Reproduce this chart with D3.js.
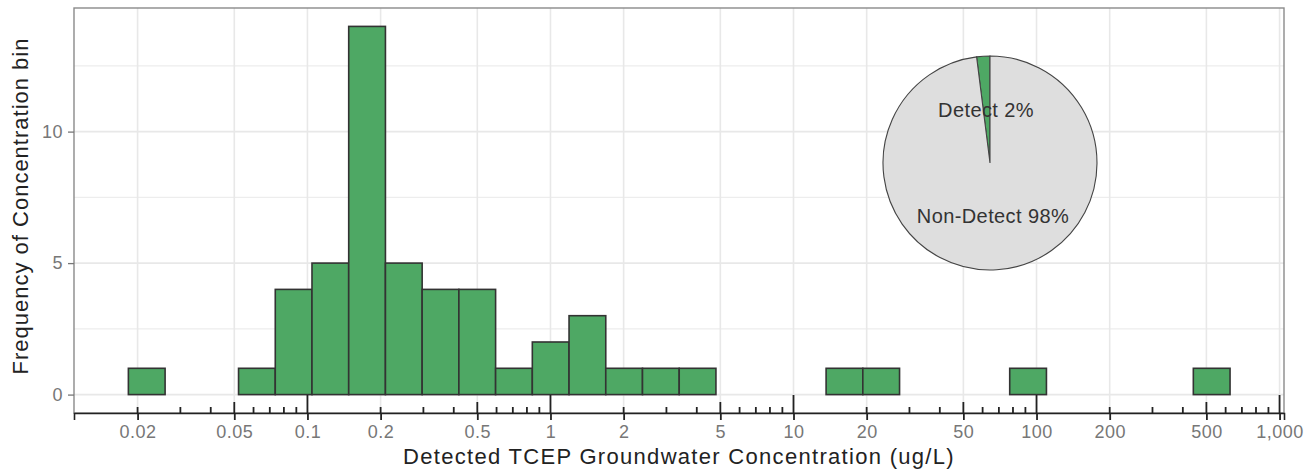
<!DOCTYPE html>
<html>
<head>
<meta charset="utf-8">
<script src="https://cdn.jsdelivr.net/npm/d3@7"></script>
<style>
  body { margin: 0; background: #fff; }
  text { font-family: "Liberation Sans", Arial, Helvetica, sans-serif; }
</style>
</head>
<body>
<div id="chart"></div>
<script>
// histogram of detected concentrations, 30 bins on a log10 scale
const binRange = [0.01833, 625.6];
const binCounts = [1, 0, 0, 1, 4, 5, 14, 5, 4, 4, 1, 2, 3, 1, 1, 1, 0, 0, 0, 1, 1, 0, 0, 0, 1, 0, 0, 0, 0, 1];

const xBreaks = [0.02, 0.05, 0.1, 0.2, 0.5, 1, 2, 5, 10, 20, 50, 100, 200, 500, 1000];
const yBreaks = [0, 5, 10];
const yMinorBreaks = [2.5, 7.5, 12.5];
const logTickDecades = [0.01, 0.1, 1, 10, 100, 1000];
const logTickSteps = [1, 2, 3, 4, 5, 6, 7, 8, 9];

const pieLabels = ["Detect", "Non-Detect"];
const pieShares = [2, 98];

const width = 1310;
const height = 472;
const panel = { left: 74, right: 1284, top: 8, bottom: 413 };

const svg = d3.select("#chart")
  .append("svg")
  .attr("width", width)
  .attr("height", height);

svg.append("rect").attr("width", width).attr("height", height).attr("fill", "#fff");

const x = d3.scaleLog()
  .domain([0.01095, 1043])
  .range([panel.left, panel.right]);

const y = d3.scaleLinear()
  .domain([-0.7, 14.7])
  .range([panel.bottom, panel.top]);

// grid
svg.append("g")
  .selectAll("line")
  .data(yMinorBreaks)
  .enter()
  .append("line")
  .attr("x1", panel.left).attr("x2", panel.right)
  .attr("y1", (d) => y(d)).attr("y2", (d) => y(d))
  .attr("stroke", "#ededed")
  .attr("stroke-width", 1.2);

svg.append("g")
  .selectAll("line")
  .data(yBreaks)
  .enter()
  .append("line")
  .attr("x1", panel.left).attr("x2", panel.right)
  .attr("y1", (d) => y(d)).attr("y2", (d) => y(d))
  .attr("stroke", "#e8e8e8")
  .attr("stroke-width", 1.6);

svg.append("g")
  .selectAll("line")
  .data(xBreaks)
  .enter()
  .append("line")
  .attr("x1", (d) => x(d)).attr("x2", (d) => x(d))
  .attr("y1", panel.top).attr("y2", panel.bottom)
  .attr("stroke", "#e8e8e8")
  .attr("stroke-width", 1.6);

// bins
const logMin = Math.log10(binRange[0]);
const logStep = (Math.log10(binRange[1]) - logMin) / binCounts.length;
const bins = binCounts.map((count, i) => ({
  x0: Math.pow(10, logMin + i * logStep),
  x1: Math.pow(10, logMin + (i + 1) * logStep),
  count: count,
}));

svg.append("g")
  .selectAll("rect")
  .data(bins)
  .enter()
  .append("rect")
  .attr("x", (d) => x(d.x0))
  .attr("width", (d) => x(d.x1) - x(d.x0))
  .attr("y", (d) => y(d.count))
  .attr("height", (d) => y(0) - y(d.count))
  .attr("fill", "#4ea864")
  .attr("stroke", "#333")
  .attr("stroke-width", 1.6);

// pie inset, detect slice just left of 12 o'clock
const offset = 2 * Math.PI * pieShares[0] / 100;
const pie = d3.pie().sort(null).startAngle(-offset).endAngle(2 * Math.PI - offset);
const arc = d3.arc().innerRadius(0).outerRadius(107);
const pieG = svg.append("g").attr("transform", "translate(990, 163)");
pieG.selectAll("path")
  .data(pie(pieShares))
  .enter()
  .append("path")
  .attr("d", arc)
  .attr("fill", (d, i) => (i === 0 ? "#4ea864" : "#dedede"))
  .attr("stroke", "#444")
  .attr("stroke-width", 1.1);
pieG.append("text")
  .attr("x", -4).attr("y", -46)
  .attr("text-anchor", "middle")
  .style("font-size", "20px")
  .style("letter-spacing", "0.4px")
  .attr("fill", "#333")
  .text(`${pieLabels[0]} ${pieShares[0]}%`);
pieG.append("text")
  .attr("x", 3).attr("y", 60)
  .attr("text-anchor", "middle")
  .style("font-size", "20px")
  .style("letter-spacing", "0.4px")
  .attr("fill", "#333")
  .text(`${pieLabels[1]} ${pieShares[1]}%`);

// panel border
svg.append("rect")
  .attr("x", panel.left).attr("y", panel.top)
  .attr("width", panel.right - panel.left)
  .attr("height", panel.bottom - panel.top)
  .attr("fill", "none")
  .attr("stroke", "#8a8a8a")
  .attr("stroke-width", 1.4);

// log ticks inside the bottom of the panel
const logTicks = logTickDecades
  .flatMap((dec) => logTickSteps.map((k) => ({ v: k * dec, k: k })))
  .filter((d) => d.v >= x.domain()[0] && d.v <= x.domain()[1]);
svg.append("g")
  .selectAll("line")
  .data(logTicks)
  .enter()
  .append("line")
  .attr("x1", (d) => x(d.v)).attr("x2", (d) => x(d.v))
  .attr("y1", panel.bottom)
  .attr("y2", (d) => panel.bottom - (d.k === 1 ? 18 : d.k === 5 ? 11 : 6))
  .attr("stroke", "#222")
  .attr("stroke-width", 1.8);

// x axis
const xAxis = svg.append("g")
  .attr("transform", `translate(0, ${panel.bottom})`)
  .call(d3.axisBottom(x).tickValues(xBreaks).tickSize(7).tickPadding(5).tickFormat(d3.format(",")));
xAxis.select(".domain").attr("stroke", "#222").attr("stroke-width", 1.6);
xAxis.selectAll(".tick line").attr("stroke", "#222").attr("stroke-width", 1.8);
xAxis.selectAll(".tick text")
  .style("font-size", "18px")
  .style("letter-spacing", "0.5px")
  .attr("fill", "#777")
  .attr("font-family", null);

// y axis
const yAxis = svg.append("g")
  .attr("transform", `translate(${panel.left}, 0)`)
  .call(d3.axisLeft(y).tickValues(yBreaks).tickSize(6).tickPadding(5));
yAxis.select(".domain").remove();
yAxis.selectAll(".tick line").attr("stroke", "#777").attr("stroke-width", 1.3);
yAxis.selectAll(".tick text")
  .style("font-size", "18px")
  .style("letter-spacing", "0.5px")
  .attr("fill", "#777")
  .attr("font-family", null);

// titles
svg.append("text")
  .attr("x", (panel.left + panel.right) / 2)
  .attr("y", 464)
  .attr("text-anchor", "middle")
  .style("font-size", "22px")
  .style("letter-spacing", "1.3px")
  .attr("fill", "#222")
  .text("Detected TCEP Groundwater Concentration (ug/L)");

svg.append("text")
  .attr("transform", "translate(28, 206) rotate(-90)")
  .attr("text-anchor", "middle")
  .style("font-size", "22px")
  .style("letter-spacing", "1px")
  .attr("fill", "#222")
  .text("Frequency of Concentration bin");
</script>
</body>
</html>
